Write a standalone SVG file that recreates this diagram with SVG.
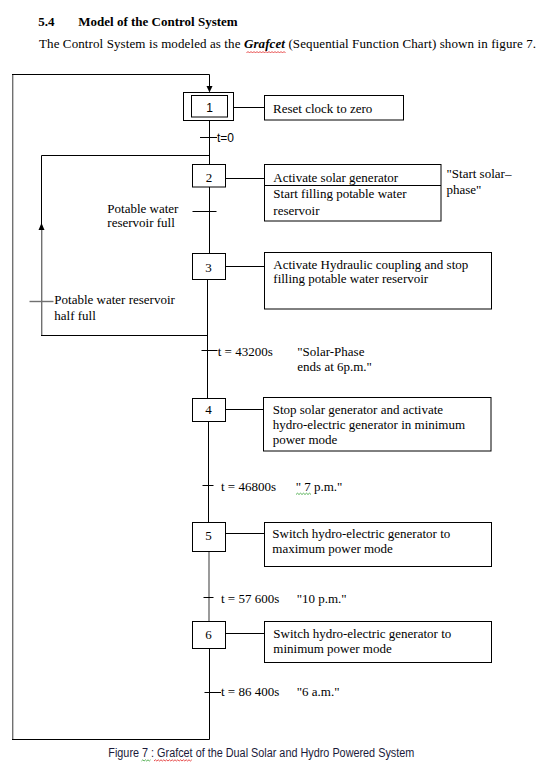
<svg xmlns="http://www.w3.org/2000/svg" width="548" height="778" viewBox="0 0 548 778">
<defs>
<style>
.bg{fill:#ffffff}
.ln{stroke:#000;stroke-width:1;fill:none}
.gl{stroke:#707070;stroke-width:1.4;fill:none}
.box{stroke:#000;stroke-width:1;fill:#fff}
.ah{fill:#000}
.t{font-family:"Liberation Serif","Times New Roman",serif;font-size:13px;fill:#000}
.s{font-family:"Liberation Sans",Arial,sans-serif;font-size:12px;fill:#000}
.h{font-family:"Liberation Serif","Times New Roman",serif;font-size:13px;font-weight:bold;fill:#000}
.n{text-anchor:middle}
.cap{font-family:"Liberation Sans",Arial,sans-serif;font-size:12px;fill:#1a1a3a}
.wr{stroke:#e02020;stroke-width:0.8;fill:none}
.wg{stroke:#30a030;stroke-width:0.8;fill:none}
</style>
</defs>
<rect class="bg" x="0" y="0" width="548" height="778"/>

<g id="heading">
<text class="h" x="38.3" y="26">5.4</text>
<text class="h" x="78.3" y="26">Model of the Control System</text>
<text class="t" x="39" y="48.3" textLength="497" lengthAdjust="spacing">The Control System is modeled as the <tspan font-style="italic" font-weight="bold">Grafcet</tspan> (Sequential Function Chart) shown in figure 7.</text>
<path class="wr" d="M246.5 53 l1.5 -1.5 l1.5 1.5 l1.5 -1.5 l1.5 1.5 l1.5 -1.5 l1.5 1.5 l1.5 -1.5 l1.5 1.5 l1.5 -1.5 l1.5 1.5 l1.5 -1.5 l1.5 1.5 l1.5 -1.5 l1.5 1.5 l1.5 -1.5 l1.5 1.5 l1.5 -1.5 l1.5 1.5 l1.5 -1.5 l1.5 1.5 l1.5 -1.5 l1.5 1.5 l1.5 -1.5 l1.5 1.5 l1.5 -1.5 l1.5 1.5"/>
</g>

<g id="connectors">
<path class="gl" d="M12.7 739.5 V74.5"/>
<path class="ln" d="M12 74.5 H209.5 V86"/>
<polygon class="ah" points="206.5,86 212.5,86 209.5,92.5"/>
<path class="ln" d="M12 739.5 H209.5"/>
<path class="ln" d="M209.5 120.5 V164.5"/>
<path class="ln" d="M209.5 187 V253.5"/>
<path class="ln" d="M207.5 279.5 V398.5"/>
<path class="ln" d="M208.5 421.5 V522.5"/>
<path class="gl" d="M209 551.5 V621.5"/>
<path class="ln" d="M209.5 648.5 V739.5"/>
<path class="ln" d="M41.5 229 V155.5 H209.5"/>
<polygon class="ah" points="38.5,230 44.5,230 41.5,223"/>
<path class="gl" d="M41.7 230 V335.5"/>
<path class="ln" d="M41 335.5 H207.5"/>
<path class="ln" d="M233.5 107.5 H264.5"/>
<path class="ln" d="M225.5 178.5 H264.5"/>
<path class="ln" d="M225.5 266.5 H264.5"/>
<path class="ln" d="M225.5 409.5 H263.5"/>
<path class="ln" d="M225.5 533.5 H264.5"/>
<path class="ln" d="M225.5 633.5 H264.5"/>
</g>

<g id="transitions">
<path class="ln" d="M200 137.5 H217"/>
<text class="s" x="217" y="142">t=0</text>
<path class="ln" d="M192.5 211.5 H216.5"/>
<text class="t" x="107.3" y="212.7">Potable water</text>
<text class="t" x="107.3" y="226.5">reservoir full</text>
<path class="gl" d="M29.5 301.5 H53.5"/>
<text class="t" x="54.3" y="304.3">Potable water reservoir</text>
<text class="t" x="54.3" y="320">half full</text>
<path class="ln" d="M201.5 350.5 H217.5"/>
<text class="t" x="217.7" y="355.7">t = 43200s</text>
<text class="t" x="297.3" y="355.7">"Solar-Phase</text>
<text class="t" x="297.3" y="371">ends at 6p.m."</text>
<path class="ln" d="M202.5 485.5 H213.5"/>
<text class="t" x="221" y="490.7">t = 46800s</text>
<text class="t" x="295.7" y="490.7">" 7 p.m."</text>
<path class="wg" d="M296 494.5 l1.5 -1.3 l1.5 1.3 l1.5 -1.3 l1.5 1.3 l1.5 -1.3 l1.5 1.3 l1.5 -1.3 l1.5 1.3 l1.5 -1.3 l1.5 1.3"/>
<path class="ln" d="M203.5 597.5 H213.5"/>
<text class="t" x="221" y="602.7">t = 57 600s</text>
<text class="t" x="296.7" y="602.7">"10 p.m."</text>
<path class="ln" d="M204.5 692.5 H221"/>
<text class="t" x="221" y="696">t = 86 400s</text>
<text class="t" x="296.7" y="696">"6 a.m."</text>
</g>

<g id="step1">
<rect class="box" x="183.5" y="92.5" width="50" height="28"/>
<rect class="box" x="191.5" y="95.5" width="36" height="21.5"/>
<text class="s n" x="209.5" y="111.5">1</text>
</g>
<g id="action1">
<rect class="box" x="264.5" y="95.5" width="139" height="24.5"/>
<text class="t" x="273" y="112.5">Reset clock to zero</text>
</g>

<g id="step2">
<rect class="box" x="192.5" y="164.5" width="33" height="22.5"/>
<text class="t n" x="209" y="181.5">2</text>
</g>
<g id="action2">
<rect class="box" x="264.5" y="164.5" width="176.5" height="56.5"/>
<path class="ln" d="M264.5 185.5 H441"/>
<text class="t" x="273.3" y="181.5">Activate solar generator</text>
<text class="t" x="273.3" y="198.3">Start filling  potable water</text>
<text class="t" x="273.3" y="215">reservoir</text>
<text class="t" x="446.5" y="178.3">"Start solar–</text>
<text class="t" x="446.5" y="194.3">phase"</text>
</g>

<g id="step3">
<rect class="box" x="192.5" y="253.5" width="33" height="26"/>
<text class="t n" x="208.5" y="271.5">3</text>
</g>
<g id="action3">
<rect class="box" x="264.5" y="252.5" width="227" height="56.5"/>
<text class="t" x="273.3" y="268.7">Activate Hydraulic coupling and stop</text>
<text class="t" x="273.3" y="283.3">filling potable water reservoir</text>
</g>

<g id="step4">
<rect class="box" x="192.5" y="398.5" width="33" height="23"/>
<text class="t n" x="208.5" y="414.3">4</text>
</g>
<g id="action4">
<rect class="box" x="263.5" y="397.5" width="227.5" height="53.5"/>
<text class="t" x="272.7" y="414.3">Stop solar generator and activate</text>
<text class="t" x="272.7" y="429.3">hydro-electric generator in  minimum</text>
<text class="t" x="272.7" y="444.3">power mode</text>
</g>

<g id="step5">
<rect class="box" x="192.5" y="522.5" width="33" height="29"/>
<text class="t n" x="208.5" y="540">5</text>
</g>
<g id="action5">
<rect class="box" x="264.5" y="522.5" width="227" height="44"/>
<text class="t" x="272.3" y="538.3">Switch hydro-electric generator to</text>
<text class="t" x="272.3" y="553.3">maximum power mode</text>
</g>

<g id="step6">
<rect class="box" x="192.5" y="621.5" width="33" height="27"/>
<text class="t n" x="208.5" y="639">6</text>
</g>
<g id="action6">
<rect class="box" x="264.5" y="621.5" width="227" height="41"/>
<text class="t" x="273.3" y="637.7">Switch hydro-electric generator to</text>
<text class="t" x="273.3" y="652.7">minimum power mode</text>
</g>

<g id="caption">
<text class="cap" x="108.3" y="757.3" textLength="306" lengthAdjust="spacingAndGlyphs">Figure 7 : Grafcet of the Dual Solar and Hydro Powered System</text>
<path class="wg" d="M141.5 761 l1.3 -1.2 l1.3 1.2 l1.3 -1.2 l1.3 1.2 l1.3 -1.2 l1.3 1.2 l1.3 -1.2"/>
<path class="wr" d="M154 761 l1.4 -1.2 l1.4 1.2 l1.4 -1.2 l1.4 1.2 l1.4 -1.2 l1.4 1.2 l1.4 -1.2 l1.4 1.2 l1.4 -1.2 l1.4 1.2 l1.4 -1.2 l1.4 1.2 l1.4 -1.2 l1.4 1.2 l1.4 -1.2 l1.4 1.2 l1.4 -1.2 l1.4 1.2 l1.4 -1.2 l1.4 1.2 l1.4 -1.2 l1.4 1.2 l1.4 -1.2 l1.4 1.2 l1.4 -1.2 l1.4 1.2 l1.4 -1.2"/>
</g>
</svg>
